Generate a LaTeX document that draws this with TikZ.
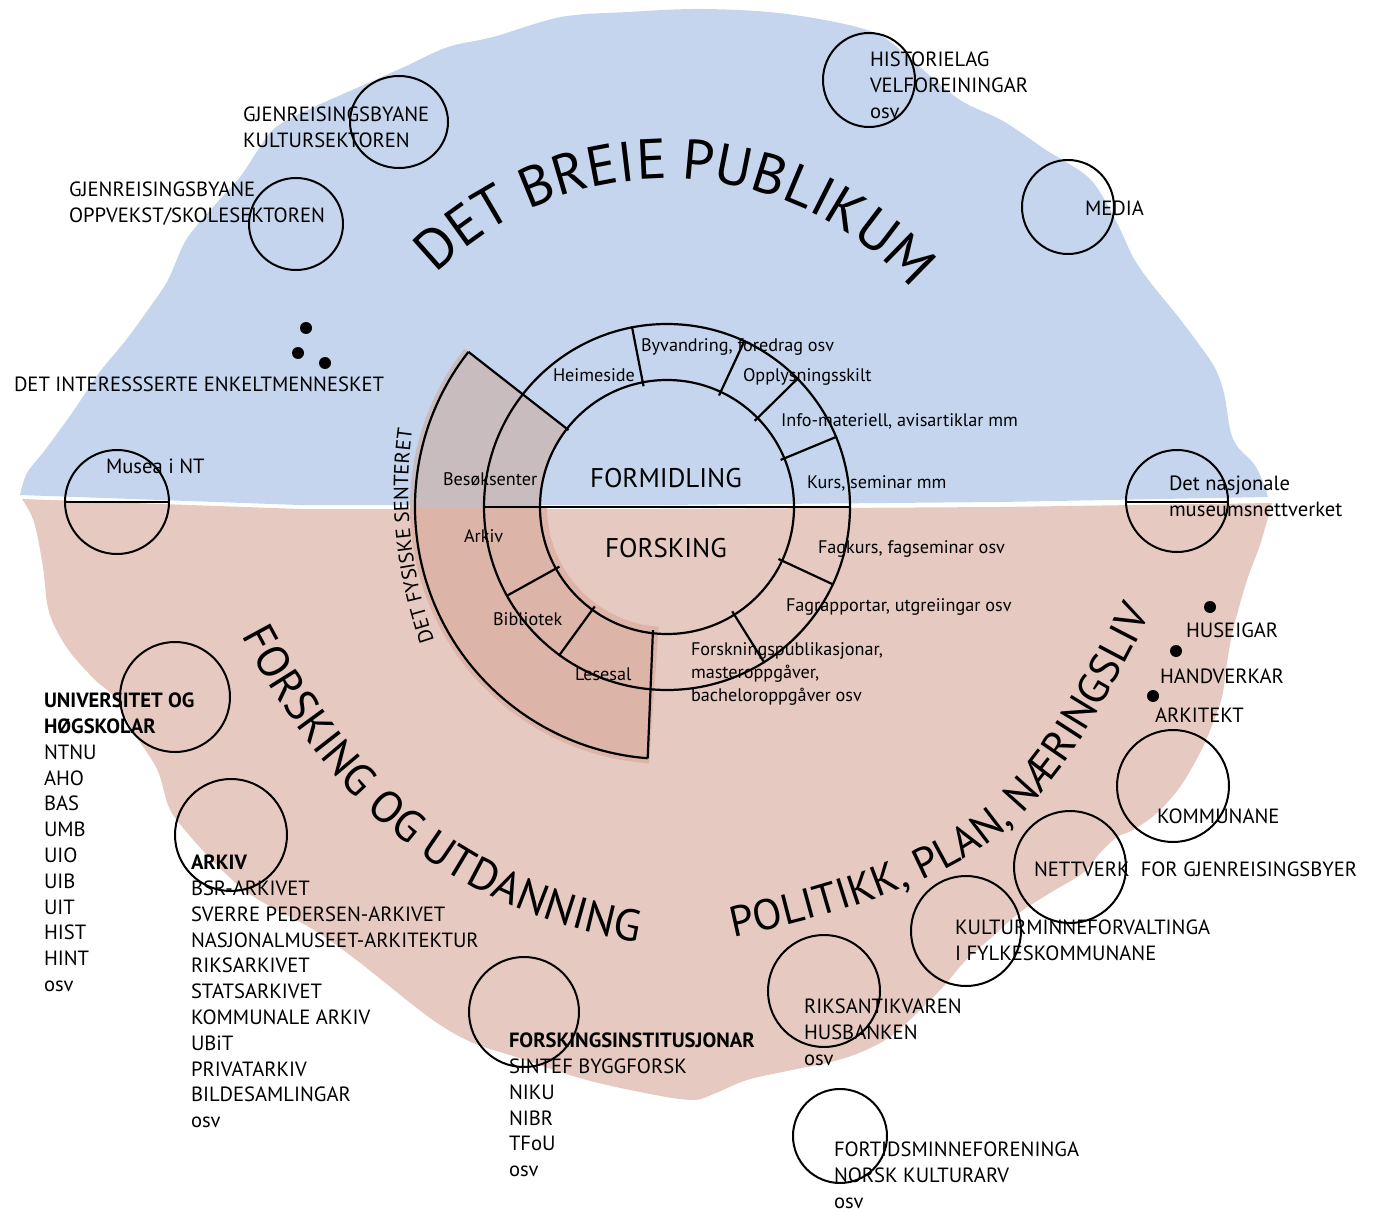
\documentclass[tikz,border=0pt]{standalone}
\usepackage{fontspec}
\setmainfont{PT Sans}
\usetikzlibrary{decorations.text}
\definecolor{bluebg}{RGB}{198,213,238}
\definecolor{pinkbg}{RGB}{230,201,192}
\definecolor{secttop}{RGB}{201,188,190}
\definecolor{sectbot}{RGB}{221,180,168}
\newcommand{\lstfont}{\fontsize{10.3}{12.9}\selectfont}
\newcommand{\ringfont}{\fontsize{9.1}{11.5}\selectfont}
\begin{document}
\begin{tikzpicture}[x=0.5pt,y=-0.5pt, line width=1pt,
  lbl/.style={inner sep=0pt, anchor=north west, align=left, font=\lstfont},
  ringlbl/.style={inner sep=0pt, anchor=base west, font=\ringfont},
  core/.style={inner sep=0pt, anchor=center, font=\fontsize{13.5}{16}\selectfont},
  bubble/.style={draw=black, line width=1pt},
  ringline/.style={draw=black, line width=1.1pt},
  blackdot/.style={fill=black}]
\useasboundingbox (0,0) rectangle (1377,1209);
% background regions
\fill[bluebg] plot[smooth, tension=0.55] coordinates {(20,495) (27,473) (45,450) (72,413) (99,373) (126,340) (150,307) (168,280) (186,240) (213,207) (240,177) (258,150) (276,127) (314,107) (359,87) (404,67) (448,47) (493,37) (561,17) (628,12) (703,9) (787,14) (873,32) (916,64) (960,100) (1003,121) (1046,150) (1090,179) (1116,221) (1133,257) (1150,282) (1176,314) (1198,343) (1215,368) (1224,393) (1230,429) (1237,446) (1254,464) (1263,482) (1268,497)} -- (1000,502) -- (660,505) -- (300,505) -- cycle;
\fill[pinkbg] (22,499) -- (300,509) -- (660,509) -- (1000,507) -- plot[smooth, tension=0.55] coordinates {(1272,503) (1260,545) (1247,580) (1233,630) (1227,663) (1222,697) (1213,723) (1200,753) (1180,787) (1157,813) (1133,830) (1117,837) (1100,853) (1083,873) (1050,893) (1019,913) (992,937) (966,960) (943,987) (917,1013) (890,1037) (859,1053) (827,1063) (792,1070) (747,1080) (716,1093) (693,1100) (650,1094) (583,1079) (516,1057) (471,1042) (430,1018) (359,962) (314,930) (251,895) (211,859) (179,823) (168,805) (157,769) (134,733) (114,697) (94,679) (67,648) (49,612) (43,567) (34,522) (22,499)} -- cycle;
% the physical centre sector
\begin{scope}[shift={(667,507)}]
\begin{scope}
\clip (-300,0) rectangle (300,300);
\fill[sectbot] (-142:257) arc[start angle=-142, end angle=-266, radius=257] -- (-266:120) arc[start angle=-266, end angle=-142, radius=120] -- cycle;
\end{scope}
\begin{scope}
\clip (-300,-300) rectangle (300,0);
\fill[secttop] (-142:257) arc[start angle=-142, end angle=-266, radius=257] -- (-266:127) arc[start angle=-266, end angle=-142, radius=127] -- cycle;
\end{scope}
% rings
\draw[ringline] (0,0) circle[radius=127];
\draw[ringline] (0,0) circle[radius=183];
\draw[ringline] (-183,0) -- (183,0);
\draw[ringline] (-142:252) arc[start angle=-142, end angle=-265.6, radius=252];
\draw[ringline] (-142:125) -- (-142:252);
\draw[ringline] (-263.5:124) -- (-265.6:252);
\foreach \a in {-101,-65,-44.5,-22.5,-209,-234,-302,-335}
  \draw[ringline] (\a:123) -- (\a:184);
\end{scope}
% ring labels
\node[core] (formidling) at (666,478) {FORMIDLING};
\node[core] (forsking) at (666,548) {FORSKING};
\node[ringlbl] (heim) at (552,382) {Heimeside};
\node[ringlbl] (byv) at (640,351) {Byvandring, foredrag osv};
\node[ringlbl] (oppl) at (742,381) {Opplysningsskilt};
\node[ringlbl] (info) at (780,426) {Info-materiell, avisartiklar mm};
\node[ringlbl] (kurs) at (806,488) {Kurs, seminar mm};
\node[ringlbl] (besok) at (442,485) {Besøksenter};
\node[ringlbl] (arkivr) at (463,542) {Arkiv};
\node[ringlbl] (bibl) at (492,625) {Bibliotek};
\node[ringlbl] (lese) at (574,680) {Lesesal};
\node[ringlbl] (fagkurs) at (817,553) {Fagkurs, fagseminar osv};
\node[ringlbl] (fagrap) at (785,611) {Fagrapportar, utgreiingar osv};
\node[inner sep=0pt, anchor=north west, align=left, font=\fontsize{9.1}{11.5}\selectfont] (fpub) at (690,642) {Forskningspublikasjonar,\\masteroppgåver,\\bacheloroppgåver osv};
% curved titles
\path[decorate, decoration={text along path, text align=center, text={|\fontsize{10.3}{12}\selectfont|DET FYSISKE SENTERET}}] (442.6,665.4) -- (433,637) .. controls (410,569) and (403,501) .. (412,433) -- (415.9,403.3);
\begin{scope}[shift={(667,507)}]
\path[decorate, decoration={text along path, text align=center, text={|\fontsize{28.2}{32}\selectfont|DET BREIE{\kern 7pt}PUBLIKUM}}] (-150:328) arc[start angle=-150, end angle=-26.5, radius=328];
\end{scope}
\path[decorate, decoration={text along path, text align=center, text={|\fontsize{22.3}{26}\selectfont|FORSKING OG UTDANNING}}] (205.5,567.4) -- (243,638) .. controls (332,806) and (449,909) .. (636,942) -- (714.8,955.9);
\path[decorate, decoration={text along path, text align=center, text={|\fontsize{21.4}{25}\selectfont|POLITIKK, PLAN, NÆRINGSLIV}}] (676.3,949.5) -- (735,937) .. controls (823,918) and (943,886) .. (1010,826) .. controls (1069,772) and (1114,686) .. (1150,615) -- (1177.2,561.5);
% bubbles
\draw[bubble] (399,122) ellipse[x radius=49, y radius=46];
\draw[bubble] (296,224) ellipse[x radius=47, y radius=46];
\draw[bubble] (117,502) circle[radius=52];
\draw[bubble] (65,502) -- (169,502);
\draw[bubble] (869,80) ellipse[x radius=46, y radius=47];
\draw[bubble] (1068,207) ellipse[x radius=46, y radius=47];
\draw[bubble] (1177,501) circle[radius=51];
\draw[bubble] (1126,502) -- (1228,502);
\draw[bubble] (175,697) circle[radius=55];
\draw[bubble] (231,835) circle[radius=56];
\draw[bubble] (524,1012) circle[radius=55];
\draw[bubble] (824,991) circle[radius=56];
\draw[bubble] (966,931) circle[radius=55];
\draw[bubble] (1070,867) circle[radius=56];
\draw[bubble] (1173,786) circle[radius=56];
\draw[bubble] (840,1136) ellipse[x radius=47, y radius=47];
% dots
\foreach \p in {(306,328),(298,353),(325,363),(1210,607),(1176,651),(1153,696)}
  \fill[blackdot] \p circle[radius=6];
% labels
\node[lbl] (kultursek) at (242,106) {GJENREISINGSBYANE\\KULTURSEKTOREN};
\node[lbl] (oppvekst) at (68,181) {GJENREISINGSBYANE\\OPPVEKST/SKOLESEKTOREN};
\node[lbl] (enkelt) at (13,376) {DET INTERESSSERTE ENKELTMENNESKET};
\node[lbl] (musea) at (105,458) {Musea i NT};
\node[lbl] (hist) at (869,51) {HISTORIELAG\\VELFOREININGAR\\osv};
\node[lbl] (media) at (1084,200) {MEDIA};
\node[lbl] (nasj) at (1168,475) {Det nasjonale\\museumsnettverket};
\node[lbl] (huseigar) at (1185,622) {HUSEIGAR};
\node[lbl] (handverkar) at (1159,668) {HANDVERKAR};
\node[lbl] (arkitekt) at (1154,707) {ARKITEKT};
\node[lbl] (kommunane) at (1156,808) {KOMMUNANE};
\node[lbl] (nettverk) at (1033,861) {NETTVERK\ \ FOR GJENREISINGSBYER};
\node[lbl] (kulturminne) at (954,919) {KULTURMINNEFORVALTINGA\\I FYLKESKOMMUNANE};
\node[lbl] (riks) at (803,998) {RIKSANTIKVAREN\\HUSBANKEN\\osv};
\node[lbl] (fortids) at (833,1141) {FORTIDSMINNEFORENINGA\\NORSK KULTURARV\\osv};
\node[lbl] (forskinst) at (508,1032) {\textbf{FORSKINGSINSTITUSJONAR}\\SINTEF BYGGFORSK\\NIKU\\NIBR\\TFoU\\osv};
\node[lbl] (arkiv) at (190,854) {\textbf{ARKIV}\\BSR-ARKIVET\\SVERRE PEDERSEN-ARKIVET\\NASJONALMUSEET-ARKITEKTUR\\RIKSARKIVET\\STATSARKIVET\\KOMMUNALE ARKIV\\UBiT\\PRIVATARKIV\\BILDESAMLINGAR\\osv};
\node[lbl] (univ) at (43,692) {\textbf{UNIVERSITET OG}\\\textbf{HØGSKOLAR}\\NTNU\\AHO\\BAS\\UMB\\UIO\\UIB\\UIT\\HIST\\HINT\\osv};
\end{tikzpicture}
\end{document}
